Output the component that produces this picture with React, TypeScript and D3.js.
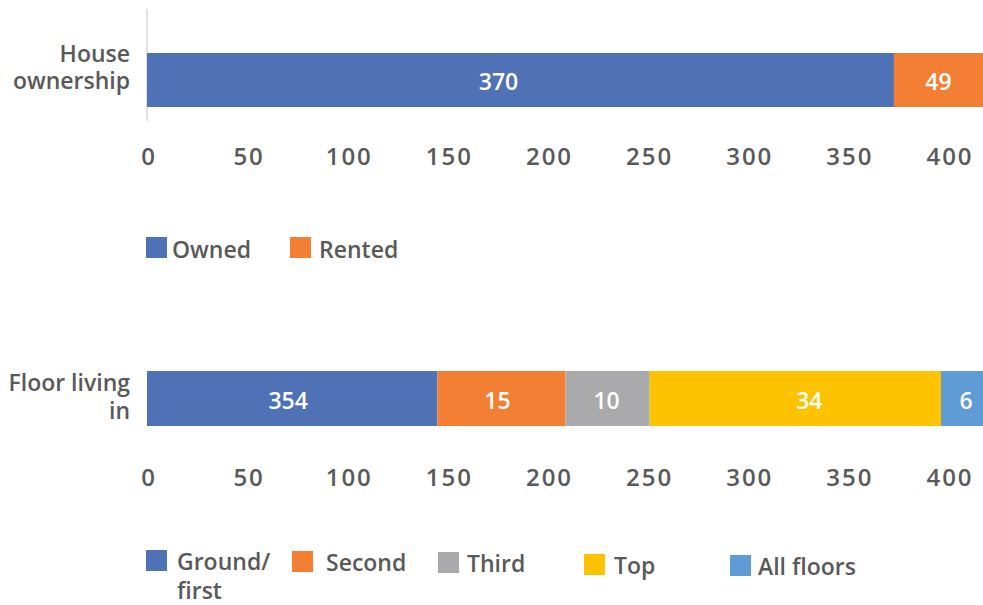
import React from "react";
import * as d3 from "d3";

// ---- data ----
const ownershipSeries = ["Owned", "Rented"];
const ownershipLabels = [370, 49];
const ownershipBarLengths = [373, 49];

const floorSeries = ["Ground/\nfirst", "Second", "Third", "Top", "All floors"];
const floorLabels = [354, 15, 10, 34, 6];
const floorBarLengths = [145, 64, 42, 145.5, 22];

const tickValues = [0, 50, 100, 150, 200, 250, 300, 350, 400];

const ownershipColors = ["#4f71b6", "#f27f33"];
const floorColors = ["#4f71b6", "#f27f33", "#aaa9ab", "#fdc300", "#5f9bd4"];

// label nudges (px) as placed in the reference
const ownershipLabelNudge = [-22, 0];
const floorLabelNudge = [-4, -4, -1, 14, 4];

const W = 983;
const H = 605;
const FONT = "'Open Sans', sans-serif";
const GRAY = "#595959";

export default function App() {
  const x = d3.scaleLinear().domain([0, 400]).range([147, 948]);

  const stack = (lengths: number[]) => {
    let acc = 0;
    return lengths.map((l) => {
      const s = acc;
      acc += l;
      return [s, acc];
    });
  };

  const ownStack = stack(ownershipBarLengths);
  const floorStack = stack(floorBarLengths);

  const ownLegendX = [146, 290];
  const floorLegend = [
    { x: 146, y: 550 },
    { x: 292, y: 551 },
    { x: 438, y: 552 },
    { x: 584, y: 554 },
    { x: 730, y: 555 },
  ];
  const floorLegendTextX = [177, 326, 467, 614, 758];

  const textStyle = { fontFamily: FONT, fontWeight: 600 } as const;

  return (
    <svg
      width={W}
      height={H}
      style={{ position: "absolute", left: 0, top: 0, background: "#fff" }}
    >
      {/* ---------- House ownership ---------- */}
      <line x1={147} x2={147} y1={9} y2={121} stroke="#d9d9d9" strokeWidth={1.5} />
      {ownStack.map(([s, e], i) => (
        <g key={"o" + i}>
          <rect x={x(s)} y={53} width={x(e) - x(s)} height={54} fill={ownershipColors[i]} />
          <text
            x={(x(s) + Math.min(x(e), W)) / 2 + ownershipLabelNudge[i]}
            y={90}
            textAnchor="middle"
            fill="#fff"
            fontSize={23}
            {...textStyle}
          >
            {ownershipLabels[i]}
          </text>
        </g>
      ))}
      <text x={130} y={62} textAnchor="end" fill={GRAY} fontSize={23} {...textStyle}>
        House
      </text>
      <text x={130} y={89} textAnchor="end" fill={GRAY} fontSize={23} {...textStyle}>
        ownership
      </text>
      {tickValues.map((t) => (
        <text
          key={"t1" + t}
          x={x(t) + 2}
          y={165}
          textAnchor="middle"
          fill={GRAY}
          fontSize={24}
          letterSpacing={2}
          {...textStyle}
        >
          {t}
        </text>
      ))}
      {ownershipSeries.map((s, i) => (
        <g key={"ol" + i}>
          <rect x={ownLegendX[i]} y={237} width={21} height={21} fill={ownershipColors[i]} />
          <text x={ownLegendX[i] + (i === 0 ? 26 : 29)} y={258} fill={GRAY} fontSize={23} {...textStyle}>
            {s}
          </text>
        </g>
      ))}

      {/* ---------- Floor living in ---------- */}
      {floorStack.map(([s, e], i) => (
        <g key={"f" + i}>
          <rect x={x(s)} y={371} width={x(e) - x(s)} height={55} fill={floorColors[i]} />
          <text
            x={(x(s) + Math.min(x(e), W)) / 2 + floorLabelNudge[i]}
            y={409}
            textAnchor="middle"
            fill="#fff"
            fontSize={23}
            {...textStyle}
          >
            {floorLabels[i]}
          </text>
        </g>
      ))}
      <text x={130} y={391} textAnchor="end" fill={GRAY} fontSize={23} {...textStyle}>
        Floor living
      </text>
      <text x={130} y={419} textAnchor="end" fill={GRAY} fontSize={23} {...textStyle}>
        in
      </text>
      {tickValues.map((t) => (
        <text
          key={"t2" + t}
          x={x(t) + 2}
          y={486}
          textAnchor="middle"
          fill={GRAY}
          fontSize={24}
          letterSpacing={2}
          {...textStyle}
        >
          {t}
        </text>
      ))}
      {floorSeries.map((s, i) => (
        <g key={"fl" + i}>
          <rect
            x={floorLegend[i].x}
            y={floorLegend[i].y}
            width={21}
            height={21}
            fill={floorColors[i]}
          />
          {s.split("\n").map((line, j) => (
            <text
              key={j}
              x={floorLegendTextX[i]}
              y={floorLegend[i].y + 20 + j * 29}
              fill={GRAY}
              fontSize={23}
              {...textStyle}
            >
              {line}
            </text>
          ))}
        </g>
      ))}
    </svg>
  );
}
